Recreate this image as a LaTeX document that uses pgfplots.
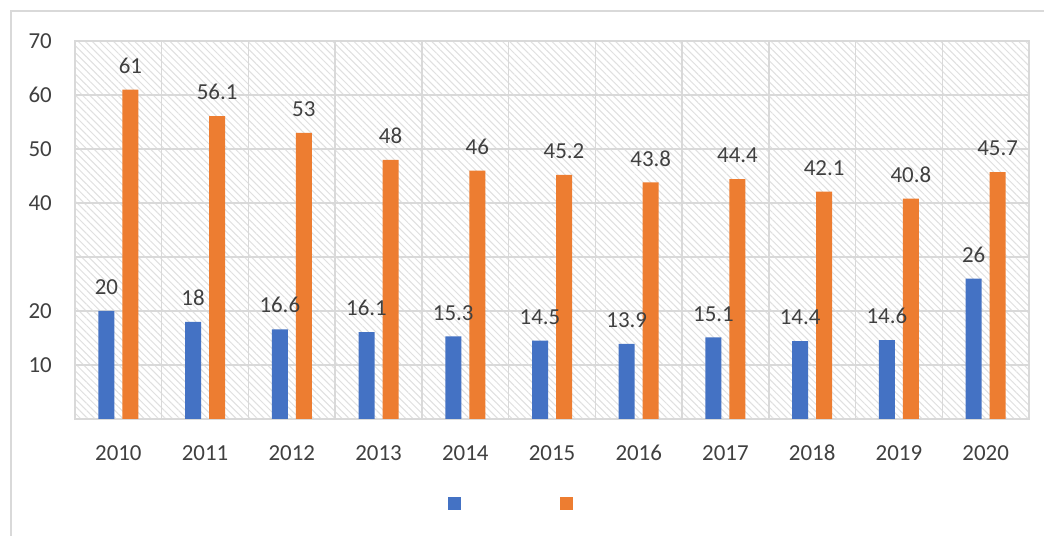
\documentclass[border=0pt]{standalone}
\usepackage{fontspec}
\setmainfont{Carlito}
\usepackage{pgfplots}
\pgfplotsset{compat=1.18}
\usetikzlibrary{patterns.meta}
\definecolor{cblue}{HTML}{4472C4}
\definecolor{corange}{HTML}{ED7D31}
\definecolor{ctext}{HTML}{404040}
\definecolor{cgrid}{HTML}{D9D9D9}
\begin{document}
\begin{tikzpicture}
\useasboundingbox (0,0) rectangle (1044bp,536bp);
\fill[white] (0,0) rectangle (1044bp,536bp);
\draw[cgrid, line width=2bp] (1050bp,525bp) -- (11bp,525bp) -- (11bp,-5bp);
\begin{axis}[
  at={(75bp,117bp)}, anchor=south west,
  scale only axis, width=954bp, height=378bp,
  ymin=0, ymax=70, xmin=-0.5, xmax=10.5,
  ybar=8bp, bar width=16bp,
  ytick={0,10,20,30,40,50,60,70},
  yticklabels={,10,20,,40,50,60,70},
  xtick={0,1,2,3,4,5,6,7,8,9,10},
  xticklabels={2010,2011,2012,2013,2014,2015,2016,2017,2018,2019,2020},
  minor xtick={-0.5,0.5,1.5,2.5,3.5,4.5,5.5,6.5,7.5,8.5,9.5,10.5},
  xminorgrids, ymajorgrids,
  major tick length=0pt, minor tick length=0pt,
  grid style={cgrid, line width=1.5bp},
  minor grid style={cgrid, line width=1.5bp},
  axis line style={cgrid, line width=1.5bp},
  tick label style={font=\fontsize{23}{27}\selectfont, color=ctext, inner sep=0pt},
  yticklabel style={xshift=-23bp},
  xticklabel style={yshift=-26bp},
  /pgf/number format/assume math mode=true,
  nodes near coords,
  nodes near coords style={font=\fontsize{23}{27}\selectfont, color=ctext, inner sep=0pt, anchor=south, yshift=16bp},
  axis background/.style={pattern={Lines[angle=-45,distance=5bp,line width=1bp]}, pattern color=black!12},
  legend style={at={(0.457,-0.2235)}, anchor=center, draw=none, fill=none,
    legend columns=2, nodes={inner sep=0pt},
    /tikz/every even column/.append style={column sep=98bp}},
  sqleg/.style={legend image code/.code={\fill[##1] (0bp,-6.5bp) rectangle (13bp,6.5bp);}},
]
\addplot[fill=cblue, draw=none, sqleg] coordinates {
  (0,20) (1,18) (2,16.6) (3,16.1) (4,15.3) (5,14.5) (6,13.9) (7,15.1) (8,14.4) (9,14.6) (10,26)};
\addlegendentry{}
\addplot[fill=corange, draw=none, sqleg] coordinates {
  (0,61) (1,56.1) (2,53) (3,48) (4,46) (5,45.2) (6,43.8) (7,44.4) (8,42.1) (9,40.8) (10,45.7)};
\addlegendentry{}
\end{axis}
\end{tikzpicture}
\end{document}
